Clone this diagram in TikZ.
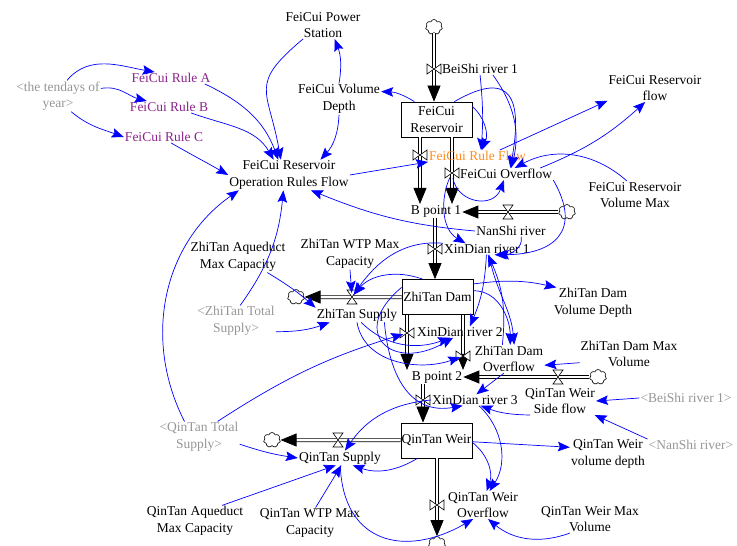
\documentclass[tikz,border=0pt]{standalone}
\usepackage{fontspec}
\setmainfont{Liberation Serif}
\usetikzlibrary{arrows.meta,shapes.symbols}
\definecolor{linkblue}{RGB}{0,0,255}
\definecolor{rulepurple}{RGB}{140,35,140}
\definecolor{shadowgray}{RGB}{150,150,150}
\definecolor{ruleorange}{RGB}{255,140,30}
\tikzset{
  var/.style={align=center, inner sep=1pt, font=\fontsize{13.5}{16.5}\selectfont},
  ghost/.style={var, text=shadowgray},
  rulevar/.style={var, text=rulepurple},
  stock/.style={var, draw, fill=white, line width=0.8pt, minimum width=71pt, minimum height=35pt, inner sep=0pt},
  link/.style={linkblue, line width=0.7pt, -{Stealth[length=12pt,width=9.5pt,inset=2pt]}},
  pipe/.style={double=white, double distance=2.6pt, line width=0.7pt, -{Triangle[length=16pt,width=13pt]}},
  sky/.style={cloud, draw, fill=white, cloud puffs=7, aspect=1.2, minimum width=17pt, minimum height=15pt, inner sep=0pt, line width=0.6pt},
  valve/.pic={\draw[fill=white, line width=0.6pt] (-5,-7) -- (5,-7) -- (-5,7) -- (5,7) -- cycle;}
}
\begin{document}
\begin{tikzpicture}[x=1pt,y=-1pt]
\useasboundingbox (0,0) rectangle (737,546);
% stocks and clouds
\node[stock] (fres) at (436.5,119.5) {FeiCui\\Reservoir};
\node[stock] (zdam) at (437.5,297) {ZhiTan Dam};
\node[stock] (qweir) at (436.5,440.5) {QinTan Weir};
\node[var] (bp1) at (436,211) {B point 1};
\node[var] (bp2) at (437,377) {B point 2};
\node[sky] (c1) at (434,27) {};
\node[sky] (c2) at (567,212) {};
\node[sky] (c3) at (296,297) {};
\node[sky] (c4) at (598,377) {};
\node[sky] (c5) at (272,440) {};
\node[sky] (c6) at (437,544) {};
\coordinate (vBS) at (434,69);
\coordinate (vRF) at (420,155);
\coordinate (vFO) at (452,173);
\coordinate (vNS) at (508,212);
\coordinate (vX1) at (435,249);
\coordinate (vZS) at (352,297);
\coordinate (vX2) at (407,333);
\coordinate (vZO) at (463,356);
\coordinate (vSF) at (558,377);
\coordinate (vX3) at (423,400);
\coordinate (vQS) at (338,440);
\coordinate (vQO) at (437,505);
% flows
\draw[pipe] (c1.south) -- (c1.south |- fres.north);
\draw[pipe] (vRF |- fres.south) -- (vRF |- bp1.north);
\draw[pipe] (vFO |- fres.south) -- (vFO |- bp1.north);
\draw[pipe] (c2.west) -- (c2.west -| bp1.east);
\draw[pipe] (vX1 |- bp1.south) -- (vX1 |- zdam.north);
\draw[pipe] (zdam.west |- vZS) -- (c3.east);
\draw[pipe] (vX2 |- zdam.south) -- (vX2 |- bp2.north);
\draw[pipe] (vZO |- zdam.south) -- (vZO |- bp2.north);
\draw[pipe] (c4.west) -- (c4.west -| bp2.east);
\draw[pipe] (vX3 |- bp2.south) -- (vX3 |- qweir.north);
\draw[pipe] (qweir.west |- vQS) -- (c5.east);
\draw[pipe] (vQO |- qweir.south) -- (c6.north);
\foreach \v in {vBS,vRF,vFO,vX1,vX2,vZO,vX3,vQO}
  \pic[rotate=90] at (\v) {valve};
\foreach \v in {vNS,vZS,vSF,vQS}
  \pic at (\v) {valve};
% flow names
\node[var, anchor=west] (lbs) at (441,69) {BeiShi river 1};
\node[var, anchor=west, text=ruleorange] (lrf) at (428,156) {FeiCui Rule Flow};
\node[var, anchor=west] (lfo) at (459,174) {FeiCui Overflow};
\node[var] (lns) at (511,231) {NanShi river};
\node[var, anchor=west] (lx1) at (443,249) {XinDian river 1};
\node[var] (zsup) at (357,315) {ZhiTan Supply};
\node[var, anchor=west] (lx2) at (416,332) {XinDian river 2};
\node[var] (lzo) at (509,359) {ZhiTan Dam\\Overflow};
\node[var] (qside) at (560,401) {QinTan Weir\\Side flow};
\node[var, anchor=west] (lx3) at (431,400) {XinDian river 3};
\node[var] (qsup) at (340,458) {QinTan Supply};
\node[var] (lqo) at (483,505) {QinTan Weir\\Overflow};
% auxiliaries
\node[var] (pwr) at (323,25) {FeiCui Power\\Station};
\node[var] (vdep) at (339,99) {FeiCui Volume\\Depth};
\node[ghost] (tend) at (58,96) {<the tendays of\\year>};
\node[rulevar] (ruleA) at (171,78) {FeiCui Rule A};
\node[rulevar] (ruleB) at (169,107) {FeiCui Rule B};
\node[rulevar] (ruleC) at (164,137) {FeiCui Rule C};
\node[var] (opr) at (289,175) {FeiCui Reservoir\\Operation Rules Flow};
\node[var] (fflow) at (655,88) {FeiCui Reservoir\\flow};
\node[var] (fvmax) at (635,195) {FeiCui Reservoir\\Volume Max};
\node[var] (zaq) at (238,257) {ZhiTan Aqueduct\\Max Capacity};
\node[var] (zwtp) at (350,254) {ZhiTan WTP Max\\Capacity};
\node[ghost] (ztot) at (236,321) {<ZhiTan Total\\Supply>};
\node[var] (zvd) at (593,303) {ZhiTan Dam\\Volume Depth};
\node[var] (zmax) at (629,354) {ZhiTan Dam Max\\Volume};
\node[ghost] (bsh) at (686,398) {<BeiShi river 1>};
\node[ghost] (nsh) at (691,445) {<NanShi river>};
\node[var] (qvd) at (608,454) {QinTan Weir\\volume depth};
\node[var] (qmax) at (590,519) {QinTan Weir Max\\Volume};
\node[ghost] (qtot) at (199,437) {<QinTan Total\\Supply>};
\node[var] (qaq) at (195,521) {QinTan Aqueduct\\Max Capacity};
\node[var] (qwtp) at (310,523) {QinTan WTP Max\\Capacity};
% links, FeiCui part
\draw[link] (tend.60) to[out=50,in=170] (ruleA.160);
\draw[link] (tend.10) to[out=10,in=165] (ruleB.165);
\draw[link] (tend.-50) to[out=-40,in=160] (ruleC.west);
\draw[link] (ruleA.-10) to[out=-25,in=110] (opr.125);
\draw[link] (ruleB.-15) to[out=-20,in=120] (opr.135);
\draw[link] (ruleC.-40) to[out=-30,in=150] (opr.west);
\draw[link] (pwr.-145) to[out=-140,in=100,looseness=1.5] (opr.118);
\draw[link] (vdep.north) to[bend right=15] (pwr.-50);
\draw[link] (fres.141) to[bend right=15] (vdep.10);
\draw[link] (vdep.south) to[bend left=20] (opr.26);
\draw[link] (opr.east) -- (lrf.south west);
\draw[link] (lns.west) to[out=175,in=-22] (opr.-35);
\draw[link] (ztot.75) to[bend right=15] (opr.-110);
\draw[link] (qtot.133) to[out=117,in=-145] (opr.-163);
\draw[link] (lbs.-90) to[bend left=5] (lrf.60);
\draw[link] (lbs.-25) to[bend left=25] (lfo.50);
\draw[link] (fres.20) to[bend left=35] (lrf.55);
\draw[link] (fres.45) to[out=30,in=80,looseness=2] (lfo.55);
\draw[link] (lrf.15) -- (fflow.-165);
\draw[link] (lfo.10) to[bend right=10] (fflow.-125);
\draw[link] (fvmax.120) to[bend right=35] (lfo.35);
\draw[link, shorten <=5pt] (vFO) to[out=-80,in=-110,looseness=1.5] (lfo.-110);
\draw[link, shorten <=5pt] (vFO) to[out=-115,in=150] (lx1.165);
\draw[link] (lfo.south east) to[out=-60,in=0,looseness=1.6] (lx1.-37);
\draw[link] (lns.-30) to[out=-80,in=0] (lx1.-30);
% links, ZhiTan part
\draw[link] (ztot.-15) to[bend right=10] (zsup.-165);
\draw[link] (zaq.-28) to[bend left=5] (zsup.north west);
\draw[link, shorten >=4pt] (zwtp.south) -- (vZS);
\draw[link, shorten >=3pt] (lx1.north west) to[out=175,in=55] (vZS);
\draw[link, shorten >=3pt] (zdam.130) to[out=160,in=50] (vZS);
\draw[link] (zdam.20) to[bend left=10] (zvd.157);
\draw[link] (zdam.10) to[out=0,in=90] (lzo.85);
\draw[link] (lx1.-70) to[out=-80,in=95] (lzo.70);
\draw[link] (lx1.-95) to[bend left=10] (lx2.30);
\draw[link] (lzo.115) to[bend right=15] (lx1.-80);
\draw[link] (zmax.-170) -- (lzo.-10);
\draw[link, shorten >=3pt] (zsup.-90) to[out=-80,in=200] (vZO);
\draw[link] (zsup.-60) to[out=-45,in=200] (lx2.-150);
\draw[link] (zdam.165) to[out=220,in=210,looseness=2.5] (lx2.-140);
\draw[link] (zsup.-15) to[out=-85,in=190,looseness=1.2] (lx3.-155);
\draw[link, shorten >=4pt] (qtot.40) to[bend left=8] (vX2);
\draw[link] (lzo.-110) -- (lx3.75);
% links, QinTan part
\draw[link] (bsh.west) -- (qside.east);
\draw[link] (nsh.north west) -- (qside.-22);
\draw[link] (qside.-155) to[bend left=10] (lx3.-45);
\draw[link] (lx3.west) to[bend right=25] (qsup.56);
\draw[link] (qweir.-137) to[bend left=25] (qsup.-30);
\draw[link] (qweir.-2) -- (qvd.170);
\draw[link] (qweir.-3) to[bend left=35] (lqo.75);
\draw[link] (lx3.-55) to[bend left=40] (lqo.65);
\draw[link] (qmax.-145) to[bend left=30] (lqo.-70);
\draw[link] (qsup.-88) to[out=-88,in=210,looseness=1.4] (lqo.-125);
\draw[link] (qtot.-10) to[bend right=5] (qsup.west);
\draw[link] (qaq.30) -- (qsup.-120);
\draw[link] (qwtp.70) -- (qsup.-80);
\end{tikzpicture}
\end{document}
